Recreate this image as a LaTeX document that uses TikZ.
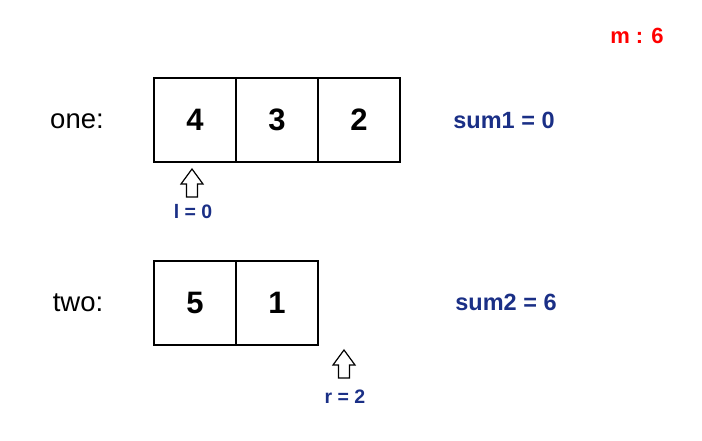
\documentclass[tikz,border=0pt]{standalone}
\usepackage{fontspec}
\setmainfont{Liberation Sans}
\usetikzlibrary{positioning}
\definecolor{navy}{HTML}{1A2F86}
\definecolor{mred}{HTML}{FF0000}

\begin{document}
\begin{tikzpicture}[x=1pt,y=-1pt,
  cell/.style={draw,line width=2pt,outer sep=0pt,minimum width=82pt,minimum height=84pt,inner sep=0pt,font=\fontsize{31}{31}\selectfont\bfseries},
  name label/.style={font=\fontsize{27.5}{27.5}\selectfont},
  var label/.style={text=navy,font=\fontsize{23.5}{23.5}\selectfont\bfseries},
  ptr label/.style={text=navy,font=\fontsize{19.5}{19.5}\selectfont\bfseries},
  ptr/.pic={\draw[line width=1.2pt,line join=miter] (0,0) -- (11,15) -- (5.5,15) -- (5.5,28) -- (-5.5,28) -- (-5.5,15) -- (-11,15) -- cycle;}]

  \useasboundingbox (0,0) rectangle (702,441);

  % array one
  \node[cell] (a0) at (195,120) {4};
  \node[cell] (a1) [right=0pt of a0] {3};
  \node[cell] (a2) [right=0pt of a1] {2};
  \node[name label] (one) at (77,121) {one:};

  % array two
  \node[cell] (b0) at (195,303) {5};
  \node[cell] (b1) [right=0pt of b0] {1};
  \node[name label] (two) at (78,303) {two:};

  % pointers
  \pic at (192,169) {ptr};
  \node[ptr label] (l) at (193,212) {l = 0};
  \pic at (344,350) {ptr};
  \node[ptr label] (r) at (345,397) {r = 2};

  % sums
  \node[var label] (sum1) at (504,120) {sum1 = 0};
  \node[var label] (sum2) at (506,302) {sum2 = 6};
  \node[text=mred,font=\fontsize{22}{22}\selectfont\bfseries] (m) at (637,36) {m : 6};
\end{tikzpicture}
\end{document}
